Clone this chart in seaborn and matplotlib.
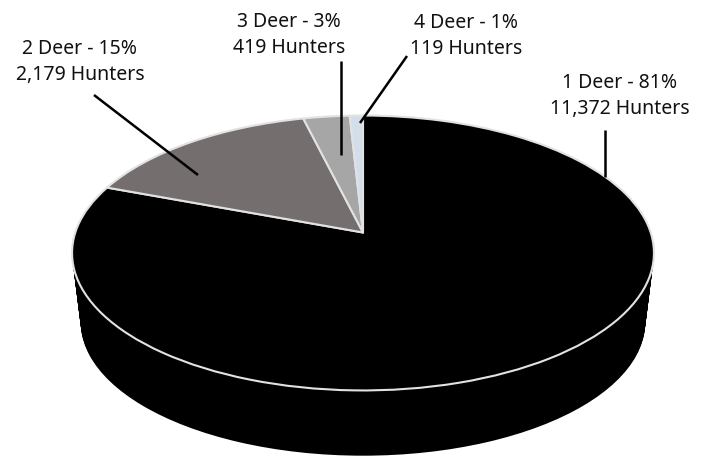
import numpy as np
import matplotlib
matplotlib.use("Agg")
import matplotlib.pyplot as plt
from matplotlib.transforms import Transform
import seaborn as sns

categories = ["1 Deer", "2 Deer", "3 Deer", "4 Deer"]
percents = ["81%", "15%", "3%", "1%"]
hunters = [11372, 2179, 419, 119]
slice_colors = ["#000000", "#746e6e", "#a6a6a6", "#d2deea"]
label_x = [620, 80, 289, 466]
label_y = [96, 62, 35, 36]
leader_start = [(605, 130), (94, 95), (341, 61), (407, 56)]
leader_end = [(605, 177), (198, 175), (341, 155), (360, 123)]

sns.set_theme(style="white")
plt.rcParams['font.family'] = ['Noto Sans', 'DejaVu Sans']


class Perspective(Transform):
    """Tilted-disc projection of the unit pie onto pixel coordinates."""
    input_dims = 2
    output_dims = 2
    has_inverse = False

    def __init__(self, cx, cy, a, b, k):
        super().__init__()
        self.cx, self.cy, self.a, self.b, self.k = cx, cy, a, b, k

    def transform_non_affine(self, values):
        v = np.asarray(values, dtype=float)
        w = 1 + self.k * v[:, 1]
        return np.column_stack([self.cx + self.a * v[:, 0] / w,
                                self.cy - self.b * v[:, 1] / w])


fig = plt.figure(figsize=(7.07, 4.58), dpi=100)
ax = fig.add_axes([0, 0, 1, 1])

CX, CY, A, B, K = 363, 232.5, 287.7, 134.4, 0.149
DEPTH, SHRINK = 70, 0.03

# body of the disc: stacked black pies, far to near
for t in np.linspace(1, 0, 60):
    s = 1 - SHRINK * t
    wedges, _ = ax.pie([1], colors=["black"], startangle=90,
                       wedgeprops=dict(linewidth=0))
    tr = Perspective(CX, CY + DEPTH * t, A * s, B * s, K)
    for w in wedges:
        w.set_transform(tr + ax.transData)

# top surface
wedges, _ = ax.pie(hunters, colors=sns.color_palette(slice_colors), startangle=90,
                   counterclock=False,
                   wedgeprops=dict(linewidth=1.5, edgecolor="#e2e2e2", joinstyle="round"))
tr = Perspective(CX, CY, A, B, K)
for w in wedges:
    w.set_transform(tr + ax.transData)

ax.set_aspect("auto")
ax.set_xlim(0, 707)
ax.set_ylim(458, 0)
ax.axis("off")

for start, end in zip(leader_start, leader_end):
    ax.plot([start[0], end[0]], [start[1], end[1]], color="black", lw=1.8,
            solid_capstyle="butt", zorder=10)

for c, p, h, x, y in zip(categories, percents, hunters, label_x, label_y):
    ax.text(x, y, f"{c} - {p}\n{h:,} Hunters", ha="center", va="center",
            fontsize=14, color="#111111", linespacing=1.38, zorder=11)

fig.savefig("out.png", dpi=100)
